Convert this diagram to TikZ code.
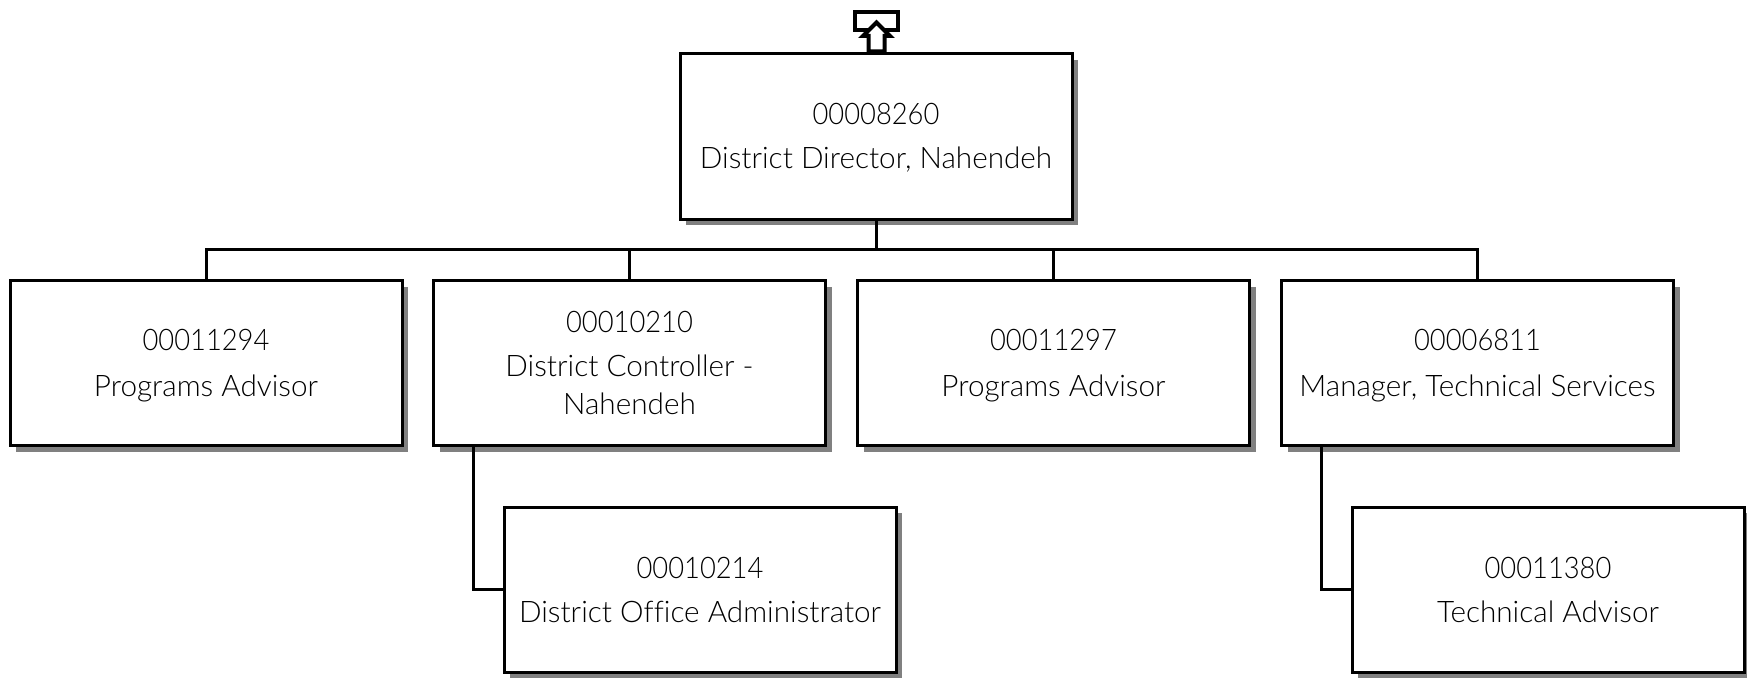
\documentclass[tikz,border=0pt]{standalone}
\usepackage{fontspec}
\setmainfont[Ligatures=NoCommon]{Lato Light}
\newfontfamily\idfont[FakeStretch=0.92]{Lato Light}
\newcommand{\pid}[2][0pt]{\rule{0pt}{#1}{\idfont #2}}
\usetikzlibrary{shadows}
\definecolor{shadowgray}{RGB}{128,128,128}
\tikzset{
  x=1pt,y=-1pt,
  posbox/.style={draw=black,line width=3pt,fill=white,minimum width=392pt,minimum height=165pt,
    inner sep=0pt,align=center,font=\fontsize{29.7}{38}\selectfont,
    general shadow={fill=shadowgray,shadow xshift=6pt,shadow yshift=-6pt}},
  link/.style={draw=black,line width=3pt},
  icon/.style={draw=black,line width=4pt,fill=white,miter limit=10}
}
\begin{document}
\begin{tikzpicture}
\useasboundingbox (0,0) rectangle (1747,677);
\node[posbox] (top) at (876,136.5) {\pid[24pt]{00008260}\\[6pt]District Director, Nahendeh};
\node[posbox] (a) at (206,363) {\pid[27pt]{00011294}\\[8pt]Programs Advisor};
\node[posbox] (b) at (629.5,363) {\pid{00010210}\\[6pt]District Controller -\\Nahendeh};
\node[posbox] (c) at (1053.5,363) {\pid[27pt]{00011297}\\[8pt]Programs Advisor};
\node[posbox] (d) at (1477.5,363) {\pid[27pt]{00006811}\\[8pt]Manager, Technical Services};
\node[posbox] (e) at (700,589.5) {\pid{00010214}\\[6pt]District Office Administrator};
\node[posbox] (f) at (1548,589.5) {\pid{00011380}\\[6pt]Technical Advisor};
\coordinate (bus) at (876,249);
\draw[link] (top.south) -- (bus);
\draw[link] (a.north) |- (bus);
\draw[link] (b.north) |- (bus);
\draw[link] (c.north) |- (bus);
\draw[link] (d.north) |- (bus);
\coordinate (bdrop) at (473.5,446);
\coordinate (ddrop) at (1321.5,446);
\draw[link] (bdrop) |- (e.west);
\draw[link] (ddrop) |- (f.west);
\node[draw=black,line width=4pt,fill=white,minimum width=43pt,minimum height=18pt,inner sep=0pt] (tab) at (876,21) {};
\draw[icon] (876.5,22.5) -- (890,36) -- (884.5,36) -- (884.5,51.5) -- (868.5,51.5) -- (868.5,36) -- (863,36) -- cycle;
\end{tikzpicture}
\end{document}
